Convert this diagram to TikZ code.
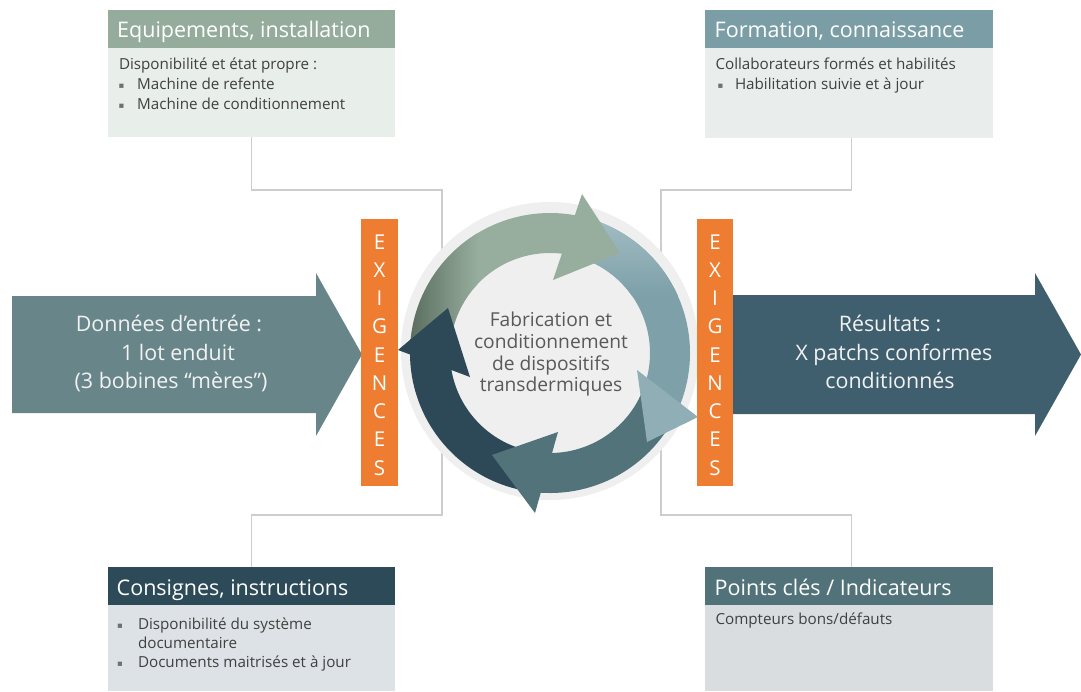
\documentclass[tikz,border=0pt]{standalone}
\usepackage{fontspec}
\setmainfont{Open Sans}
\newfontfamily\bulfont{DejaVu Sans}
\usetikzlibrary{calc}
\definecolor{hdrA}{HTML}{95AC9D}
\definecolor{bodyA}{HTML}{E8EEEA}
\definecolor{hdrB}{HTML}{7B9EA6}
\definecolor{bodyB}{HTML}{E9EEEC}
\definecolor{hdrC}{HTML}{2C4A58}
\definecolor{bodyC}{HTML}{DCE2E5}
\definecolor{hdrD}{HTML}{52727A}
\definecolor{bodyD}{HTML}{D9DDE0}
\definecolor{inarr}{HTML}{68868A}
\definecolor{outarr}{HTML}{3F5F6E}
\definecolor{orng}{HTML}{EE7D31}
\definecolor{grn}{HTML}{97AE9F}
\definecolor{grnDark}{HTML}{56695A}
\definecolor{blu}{HTML}{7DA0A9}
\definecolor{bluLight}{HTML}{A9C1C7}
\definecolor{bluHead}{HTML}{8FAEB5}
\definecolor{tea}{HTML}{52737A}
\definecolor{nav}{HTML}{2D4958}
\definecolor{circbg}{HTML}{EFEFEF}
\definecolor{conncol}{HTML}{CDCDCD}
\definecolor{txtcol}{HTML}{404040}
\definecolor{ctrcol}{HTML}{595959}
\definecolor{bulcol}{HTML}{707070}
\begin{document}
\begin{tikzpicture}[x=1pt,y=-1pt,
  hdr/.style={anchor=north west, inner sep=0pt, minimum width=287pt, minimum height=38pt, draw=none},
  bodybox/.style={anchor=north west, inner sep=0pt, minimum width=287pt, draw=none},
  ttl/.style={anchor=base west, inner sep=0pt, text=white, font=\fontsize{21.5}{24}\selectfont},
  txt/.style={anchor=base west, inner sep=0pt, text=txtcol, font=\fontsize{15.2}{18}\selectfont},
  bul/.style={anchor=base west, inner sep=0pt, text=bulcol, font=\bulfont\fontsize{8.5}{10}\selectfont},
  arrtxt/.style={anchor=base, inner sep=0pt, text=white!95!black, font=\fontsize{21.4}{26}\selectfont},
  ctrtxt/.style={anchor=base, inner sep=0pt, text=ctrcol, font=\fontsize{19.2}{22}\selectfont},
  exig/.style={inner sep=0pt, text=white, align=center, font=\fontsize{20.5}{28.25}\selectfont},
  conn/.style={draw=conncol, line width=1.3pt}
]
\useasboundingbox (0,0) rectangle (1081,691);
\fill[white] (0,0) rectangle (1081,691);

% boxes
\node[hdr, fill=hdrA] (h1) at (108,10) {};
\node[bodybox, fill=bodyA, minimum height=89pt] (b1) at (108,48) {};
\node[hdr, fill=hdrB, minimum width=288pt] (h2) at (705,10) {};
\node[bodybox, fill=bodyB, minimum width=288pt, minimum height=90pt] (b2) at (705,48) {};
\node[hdr, fill=hdrC] (h3) at (108,567) {};
\node[bodybox, fill=bodyC, minimum height=86pt] (b3) at (108,605) {};
\node[hdr, fill=hdrD, minimum width=288pt] (h4) at (705,567) {};
\node[bodybox, fill=bodyD, minimum width=288pt, minimum height=86pt] (b4) at (705,605) {};

% connectors
\coordinate (k1) at (442,190);
\coordinate (k2) at (442,515);
\coordinate (k3) at (661,190);
\coordinate (k4) at (661,515);
\coordinate (k5) at ($(b2.south)+(2,0)$);
\coordinate (k6) at ($(h4.north)+(2,0)$);
\draw[conn] (b1.south) |- (k1) -- (k2) -| (h3.north);
\draw[conn] (k5) |- (k3) -- (k4) -| (k6);

% titles
\node[ttl] (t1) at (117,37.5) {Equipements, installation};
\node[ttl] (t2) at (714.5,37.5) {Formation, connaissance};
\node[ttl] (t3) at (116.5,595.8) {Consignes, instructions};
\node[ttl] (t4) at (714.5,595.8) {Points clés / Indicateurs};

% body texts
\node[txt] (a1) at (118.8,69.3) {Disponibilité et état propre :};
\node[bul] (a2b) at (118.5,88.3) {▪};
\node[txt] (a2) at (137,89.3) {Machine de refente};
\node[bul] (a3b) at (118.5,108.3) {▪};
\node[txt] (a3) at (137,109.3) {Machine de conditionnement};

\node[txt] (c1) at (715.3,69.5) {Collaborateurs formés et habilités};
\node[bul] (c2b) at (717.5,88.3) {▪};
\node[txt] (c2) at (734.8,89.3) {Habilitation suivie et à jour};

\node[bul] (d1b) at (117,628.3) {▪};
\node[txt] (d1) at (137.8,629.3) {Disponibilité du système};
\node[txt] (d2) at (137.8,648.5) {documentaire};
\node[bul] (d3b) at (117,666.8) {▪};
\node[txt] (d3) at (137.8,667.8) {Documents maitrisés et à jour};

\node[txt] (e1) at (715.3,624.8) {Compteurs bons/défauts};

% circle background
\coordinate (C) at (550,353);
\fill[circbg] (550,351) circle[radius=149];

% big arrows
\fill[inarr] (12,296) -- (316,296) -- (316,273) -- (362,354.5) -- (316,436) -- (316,413) -- (12,413) -- cycle;
\fill[outarr] (733,295) -- (1035,295) -- (1035,273) -- (1081,354.5) -- (1035,436) -- (1035,414) -- (733,414) -- cycle;
\node[arrtxt] (i1) at (169,331.7) {Données d’entrée :};
\node[arrtxt] (i2) at (178,360) {1 lot enduit};
\node[arrtxt] (i3) at (171,388.3) {(3 bobines “mères”)};
\node[arrtxt] (o1) at (890,331.7) {Résultats :};
\node[arrtxt] (o2) at (894,360) {X patchs conformes};
\node[arrtxt] (o3) at (890,388.3) {conditionnés};

% EXIGENCES bars
\fill[orng] (361,219) rectangle (398,486);
\fill[orng] (697,219) rectangle (733,486);
\node[exig] (x1) at (379.5,355) {E\\X\\I\\G\\E\\N\\C\\E\\S};
\node[exig] (x2) at (715,355) {E\\X\\I\\G\\E\\N\\C\\E\\S};

% ring bodies (screen angles, clockwise on screen)
\def\greenpath{($(C)+(-180:140)$) arc[start angle=-180, end angle=-76, radius=140] -- ($(C)+(-76:100)$) arc[start angle=-76, end angle=-180, radius=100] -- cycle}
\fill[grn] \greenpath;
\begin{scope}
  \clip \greenpath;
  \shade[left color=grnDark, right color=grn] (405,200) rectangle (478,420);
\end{scope}
\def\bluepath{($(C)+(-78:140)$) arc[start angle=-78, end angle=27, radius=140] -- ($(C)+(27:100)$) arc[start angle=27, end angle=-78, radius=100] -- cycle}
\fill[blu] \bluepath;
\begin{scope}
  \clip \bluepath;
  \shade[top color=bluLight, bottom color=blu] (560,205) rectangle (700,295);
\end{scope}
\fill[tea] ($(C)+(25:140)$) arc[start angle=25, end angle=102, radius=140] -- ($(C)+(102:100)$) arc[start angle=102, end angle=25, radius=100] -- cycle;
\fill[nav] ($(C)+(100:140)$) arc[start angle=100, end angle=182, radius=140] -- ($(C)+(182:100)$) arc[start angle=182, end angle=100, radius=100] -- cycle;

% ring heads
\fill[grn] (582,194) -- (620,253) -- (553,280) -- cycle;
\fill[bluHead] (637,370) -- (698,417) -- (647,442) -- cycle;
\fill[tea] (558,432) -- (535,513) -- (492,455) -- cycle;
\fill[nav] (448,308) -- (398,350) -- (470,377) -- cycle;

% centre text
\node[ctrtxt] (m1) at (551,326.7) {Fabrication et};
\node[ctrtxt] (m2) at (551,348.3) {conditionnement};
\node[ctrtxt] (m3) at (551,370) {de dispositifs};
\node[ctrtxt] (m4) at (551,391.7) {transdermiques};
\end{tikzpicture}
\end{document}
